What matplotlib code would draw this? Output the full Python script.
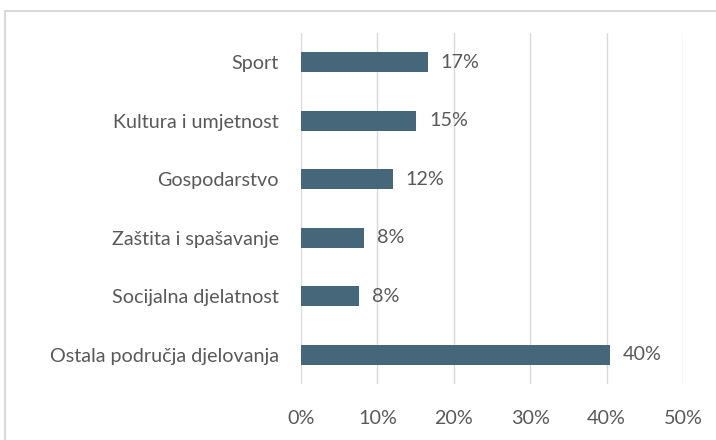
import matplotlib.pyplot as plt
from matplotlib.patches import Rectangle
from matplotlib.ticker import PercentFormatter

# Categories from top to bottom, shares in percent
categories = ['Sport', 'Kultura i umjetnost', 'Gospodarstvo',
              'Zaštita i spašavanje', 'Socijalna djelatnost',
              'Ostala područja djelovanja']
shares = [16.6, 15.1, 12.0, 8.3, 7.6, 40.4]
x_ticks = [0, 10, 20, 30, 40, 50]

BAR_COLOR = '#46677A'
TEXT_COLOR = '#595959'
GRID_COLOR = '#D9D9D9'


def main():
    plt.rcParams['font.family'] = ['Lato', 'DejaVu Sans']

    fig = plt.figure(figsize=(7.16, 4.4), dpi=100)
    ax = fig.add_axes([301 / 716, 56 / 440, 382 / 716, 351 / 440])

    pos = list(range(len(categories)))
    ax.barh(pos, shares, height=0.34, color=BAR_COLOR, zorder=3)

    for p, v in zip(pos, shares):
        ax.text(v + 1.7, p, f'{v:.0f}%', va='center', ha='left',
                fontsize=14.2, color=TEXT_COLOR)

    ax.set_yticks(pos)
    ax.set_yticklabels(categories)
    ax.set_ylim(len(categories) - 0.5, -0.5)
    ax.set_xlim(0, 50)
    ax.set_xticks(x_ticks)
    ax.xaxis.set_major_formatter(PercentFormatter(decimals=0))

    ax.tick_params(axis='both', length=0, labelsize=14.2, labelcolor=TEXT_COLOR)
    ax.tick_params(axis='y', pad=16)
    ax.tick_params(axis='x', pad=19)
    ax.grid(axis='x', color=GRID_COLOR, linewidth=1, zorder=0)
    for s in ax.spines.values():
        s.set_visible(False)

    # outer chart frame
    fig.patches.append(Rectangle((5 / 716, -0.02), 1.0, 1 - 11 / 440 + 0.02,
                                 transform=fig.transFigure, fill=False,
                                 edgecolor='#D9D9D9', linewidth=1.5))

    fig.savefig('out.png', dpi=100)


if __name__ == '__main__':
    main()
